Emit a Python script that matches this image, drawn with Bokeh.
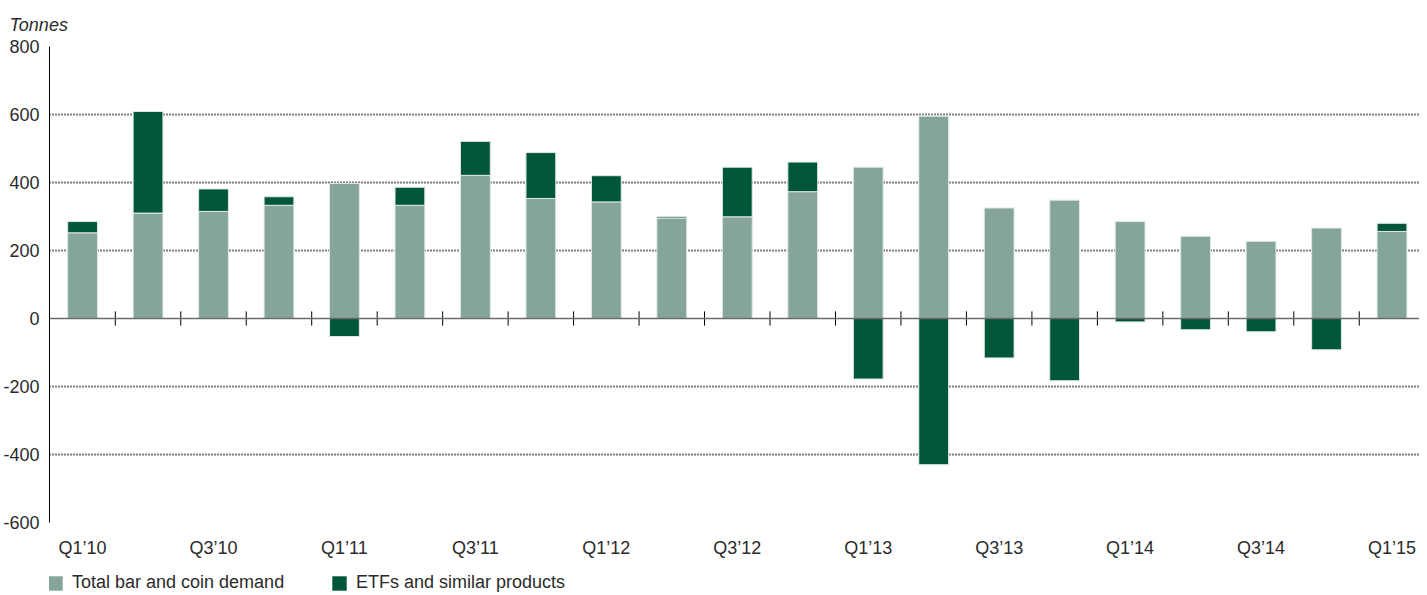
import numpy as np
from bokeh.plotting import figure
from bokeh.layouts import column
from bokeh.models import (Range1d, FixedTicker, Span, Legend, LegendItem, Title,
                          ColumnDataSource)
from bokeh.embed import file_html
from bokeh.resources import INLINE

quarters = ["Q1’10", "Q2’10", "Q3’10", "Q4’10",
            "Q1’11", "Q2’11", "Q3’11", "Q4’11",
            "Q1’12", "Q2’12", "Q3’12", "Q4’12",
            "Q1’13", "Q2’13", "Q3’13", "Q4’13",
            "Q1’14", "Q2’14", "Q3’14", "Q4’14",
            "Q1’15"]
bar_coin = [252, 310, 315, 333, 397, 333, 421, 353, 343, 295, 299, 373,
            445, 595, 325, 348, 285, 242, 227, 266, 256]
etfs = [33, 299, 66, 25, -53, 53, 100, 135, 77, 4, 146, 87,
        -178, -430, -116, -183, -10, -33, -39, -92, 24]
y_ticks = [-600, -400, -200, 0, 200, 400, 600, 800]
series_names = ["Total bar and coin demand", "ETFs and similar products"]

LIGHT = "#85a598"
DARK = "#00563b"
FONT = "Liberation Sans"
TXT = "#2b2b2b"

x = np.arange(len(quarters))
bc = np.array(bar_coin, dtype=float)
et = np.array(etfs, dtype=float)
etf_bottom = np.where(et >= 0, bc, 0.0)
etf_top = np.where(et >= 0, bc + et, et)

src = ColumnDataSource(dict(x=x, bc=bc, eb=etf_bottom, et=etf_top))

p = figure(width=1419, height=560, output_backend="svg", toolbar_location=None,
           x_range=Range1d(-0.505, 20.42), y_range=Range1d(min(y_ticks), max(y_ticks)),
           min_border_left=40, min_border_right=0, min_border_top=46,
           min_border_bottom=38)
p.outline_line_color = None
p.background_fill_color = "white"

r1 = p.vbar(x="x", top="bc", bottom=0, width=0.455, source=src,
            fill_color=LIGHT, line_color="#dfe9e4", line_width=1)
r2 = p.vbar(x="x", top="et", bottom="eb", width=0.455, source=src,
            fill_color=DARK, line_color="#dfe9e4", line_width=1)

# zero line and category separators
p.add_layout(Span(location=0, dimension="width", line_color="#6b6b6b", line_width=1.5))
bounds = x[:-1] + 0.5
p.segment(x0=bounds, y0=-21, x1=bounds, y1=21, line_color="black", line_width=1)

# grid
p.xgrid.visible = False
p.ygrid.ticker = FixedTicker(ticks=[t for t in y_ticks if t != 0])
p.ygrid.grid_line_color = "black"
p.ygrid.grid_line_dash = "1 2"
p.ygrid.grid_line_width = 2

# y axis
p.yaxis.ticker = FixedTicker(ticks=y_ticks)
p.yaxis.major_label_overrides = {t: str(t) for t in y_ticks}
p.yaxis.axis_line_color = "black"
p.yaxis.axis_line_width = 1
p.yaxis.major_tick_line_color = None
p.yaxis.minor_tick_line_color = None
p.yaxis.major_label_text_font = FONT
p.yaxis.major_label_text_font_size = "18px"
p.yaxis.major_label_text_color = TXT
p.yaxis.major_label_standoff = 4

# x axis
even = list(range(0, len(quarters), 2))
p.xaxis.ticker = FixedTicker(ticks=even)
p.xaxis.major_label_overrides = {int(i): quarters[i] for i in even}
p.xaxis.axis_line_color = None
p.xaxis.major_tick_line_color = None
p.xaxis.minor_tick_line_color = None
p.xaxis.major_label_text_font = FONT
p.xaxis.major_label_text_font_size = "18px"
p.xaxis.major_label_text_color = TXT
p.xaxis.major_label_standoff = 9

# title
t = Title(text="Tonnes", text_font=FONT, text_font_size="18px",
          text_font_style="italic", text_color=TXT, align="left",
          offset=-40, standoff=24)
p.add_layout(t, "above")

# legend strip
p2 = figure(width=1419, height=33, output_backend="svg", toolbar_location=None,
            x_range=Range1d(0, 1), y_range=Range1d(0, 1),
            x_axis_location=None, y_axis_location=None,
            min_border_left=0, min_border_right=0, min_border_top=0, min_border_bottom=0)
p2.grid.visible = False
p2.outline_line_color = None
proxy = ColumnDataSource(dict(x=[-10.0], top=[-10.0]))
l1 = p2.vbar(x="x", top="top", width=0.1, source=proxy, fill_color=LIGHT, line_color=None)
l2 = p2.vbar(x="x", top="top", width=0.1, source=proxy, fill_color=DARK, line_color=None)

legend = Legend(items=[LegendItem(label=series_names[0], renderers=[l1]),
                       LegendItem(label=series_names[1], renderers=[l2])],
                orientation="horizontal", location=(-3, 0),
                glyph_width=18, glyph_height=18, label_standoff=8,
                label_width=258, spacing=0, padding=0, margin=0,
                border_line_color=None, background_fill_alpha=0,
                label_text_font=FONT, label_text_font_size="18px",
                label_text_color=TXT)
p2.add_layout(legend, "center")

open("out.html", "w").write(file_html(column(p, p2, spacing=0), INLINE))
